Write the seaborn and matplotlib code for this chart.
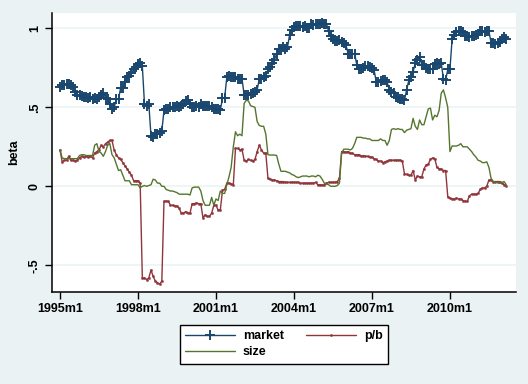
import numpy as np
import pandas as pd
import matplotlib
matplotlib.use('Agg')
import matplotlib.pyplot as plt
from matplotlib.lines import Line2D
import seaborn as sns

# monthly rolling betas, 1995m1 .. 2012m3
market = [0.63, 0.64, 0.64, 0.645, 0.645, 0.64, 0.63, 0.60, 0.58, 0.575, 0.57, 0.565,
          0.565, 0.56, 0.565, 0.55, 0.56, 0.55, 0.565, 0.575, 0.59, 0.56, 0.55, 0.52,
          0.49, 0.50, 0.55, 0.55, 0.625, 0.62, 0.66, 0.69, 0.70, 0.72, 0.74, 0.755,
          0.775, 0.78, 0.76, 0.52, 0.51, 0.52, 0.32, 0.31, 0.33, 0.33, 0.34, 0.35,
          0.48, 0.49, 0.49, 0.50, 0.50, 0.50, 0.51, 0.50, 0.51, 0.52, 0.54, 0.545,
          0.52, 0.50, 0.50, 0.51, 0.50, 0.52, 0.51, 0.51, 0.51, 0.51, 0.50, 0.49,
          0.49, 0.49, 0.48, 0.56, 0.56, 0.69, 0.70, 0.69, 0.69, 0.69, 0.68, 0.68,
          0.68, 0.58, 0.58, 0.58, 0.585, 0.59, 0.60, 0.61, 0.68, 0.68, 0.69, 0.70,
          0.74, 0.755, 0.78, 0.80, 0.84, 0.87, 0.87, 0.88, 0.87, 0.88, 0.96, 0.99,
          1.01, 1.015, 1.015, 1.015, 1.01, 1.015, 1.00, 1.00, 1.025, 1.02, 1.03, 1.03,
          1.03, 1.035, 1.03, 1.03, 0.98, 0.95, 0.93, 0.92, 0.92, 0.925, 0.915, 0.91,
          0.895, 0.84, 0.84, 0.84, 0.84, 0.77, 0.745, 0.74, 0.75, 0.76, 0.76, 0.755,
          0.75, 0.735, 0.66, 0.66, 0.665, 0.67, 0.67, 0.66, 0.61, 0.60, 0.59, 0.565,
          0.56, 0.555, 0.55, 0.545, 0.61, 0.67, 0.69, 0.725, 0.78, 0.80, 0.82, 0.77,
          0.77, 0.75, 0.745, 0.74, 0.74, 0.775, 0.78, 0.775, 0.78, 0.68, 0.67, 0.74,
          0.74, 0.93, 0.96, 0.975, 0.98, 0.98, 0.975, 0.95, 0.95, 0.945, 0.95, 0.95,
          0.96, 0.965, 0.98, 0.98, 0.975, 0.98, 0.98, 0.91, 0.905, 0.90, 0.91, 0.915,
          0.93, 0.945, 0.93]

pb = [0.23, 0.155, 0.165, 0.165, 0.19, 0.165, 0.165, 0.16, 0.165, 0.18, 0.19, 0.185,
      0.19, 0.185, 0.19, 0.18, 0.21, 0.22, 0.23, 0.26, 0.25, 0.27, 0.28, 0.29,
      0.29, 0.23, 0.20, 0.18, 0.17, 0.15, 0.13, 0.11, 0.09, 0.07, 0.035, 0.035,
      0.035, 0.02, -0.58, -0.58, -0.59, -0.58, -0.53, -0.57, -0.60, -0.61, -0.62, -0.60,
      -0.095, -0.095, -0.095, -0.12, -0.12, -0.125, -0.125, -0.14, -0.17, -0.17, -0.16, -0.17,
      -0.17, -0.11, -0.11, -0.105, -0.11, -0.11, -0.20, -0.18, -0.19, -0.19, -0.17, -0.12,
      -0.12, -0.15, -0.15, -0.025, -0.02, 0.02, 0.02, 0.015, 0.01, 0.24, 0.24, 0.23,
      0.235, 0.165, 0.16, 0.17, 0.165, 0.16, 0.17, 0.22, 0.26, 0.23, 0.21, 0.21,
      0.05, 0.045, 0.04, 0.04, 0.035, 0.03, 0.03, 0.03, 0.025, 0.025, 0.025, 0.025,
      0.025, 0.025, 0.025, 0.02, 0.02, 0.02, 0.02, 0.02, 0.02, 0.02, 0.025, 0.01,
      0.01, 0.008, 0.008, 0.02, 0.025, 0.025, 0.025, 0.025, 0.03, 0.05, 0.22, 0.22,
      0.215, 0.22, 0.21, 0.21, 0.20, 0.20, 0.20, 0.19, 0.195, 0.19, 0.19, 0.185,
      0.185, 0.175, 0.17, 0.16, 0.16, 0.15, 0.155, 0.16, 0.165, 0.165, 0.165, 0.165,
      0.165, 0.165, 0.16, 0.08, 0.075, 0.07, 0.07, 0.10, 0.04, 0.065, 0.06, 0.06,
      0.11, 0.135, 0.14, 0.17, 0.18, 0.175, 0.12, 0.11, 0.11, 0.10, 0.10, -0.065,
      -0.075, -0.08, -0.08, -0.075, -0.08, -0.08, -0.09, -0.095, -0.095, -0.06, -0.05, -0.05,
      -0.05, -0.045, -0.02, -0.01, -0.01, 0.0, 0.04, 0.04, 0.03, 0.03, 0.03, 0.03,
      0.02, 0.01, 0.005]

size = [0.23, 0.18, 0.175, 0.175, 0.175, 0.175, 0.175, 0.175, 0.175, 0.195, 0.20, 0.20,
        0.195, 0.195, 0.195, 0.195, 0.26, 0.27, 0.22, 0.21, 0.19, 0.22, 0.26, 0.27,
        0.20, 0.18, 0.14, 0.10, 0.105, 0.07, 0.035, 0.035, 0.035, 0.01, 0.01, 0.01,
        0.01, -0.01, 0.0, 0.005, 0.0, 0.005, 0.01, 0.045, 0.04, 0.02, 0.02, 0.0,
        0.0, -0.02, -0.025, -0.03, -0.03, -0.035, -0.04, -0.05, -0.05, -0.05, -0.05, -0.05,
        -0.055, -0.01, -0.005, -0.005, -0.005, -0.03, -0.09, -0.12, -0.12, -0.12, -0.07, -0.12,
        -0.08, -0.09, -0.03, -0.045, -0.045, 0.01, 0.06, 0.12, 0.25, 0.345, 0.32, 0.33,
        0.32, 0.525, 0.545, 0.54, 0.51, 0.505, 0.50, 0.41, 0.385, 0.38, 0.38, 0.33,
        0.20, 0.198, 0.198, 0.198, 0.195, 0.14, 0.095, 0.095, 0.095, 0.09, 0.085, 0.075,
        0.07, 0.06, 0.055, 0.06, 0.065, 0.065, 0.065, 0.06, 0.065, 0.065, 0.06, 0.07,
        0.065, 0.045, 0.02, 0.015, 0.01, 0.0, 0.0, 0.0, 0.005, 0.02, 0.21, 0.235,
        0.235, 0.235, 0.23, 0.24, 0.27, 0.31, 0.31, 0.31, 0.305, 0.305, 0.30, 0.30,
        0.29, 0.29, 0.29, 0.29, 0.30, 0.29, 0.29, 0.26, 0.29, 0.36, 0.365, 0.36,
        0.365, 0.36, 0.36, 0.34, 0.355, 0.36, 0.365, 0.43, 0.38, 0.36, 0.42, 0.39,
        0.39, 0.44, 0.49, 0.495, 0.42, 0.45, 0.44, 0.48, 0.59, 0.61, 0.56, 0.50,
        0.22, 0.255, 0.255, 0.255, 0.26, 0.27, 0.25, 0.25, 0.25, 0.235, 0.22, 0.20,
        0.185, 0.165, 0.16, 0.15, 0.15, 0.155, 0.12, 0.05, 0.03, 0.025, 0.025, 0.02,
        0.025, 0.03, 0.01]

xtick_pos = [0, 36, 72, 108, 144, 180]
xtick_labels = ['1995m1', '1998m1', '2001m1', '2004m1', '2007m1', '2010m1']
ytick_pos = [-0.5, 0, 0.5, 1]
ytick_labels = ['-.5', '0', '.5', '1']

df = pd.DataFrame({'t': np.arange(len(market)), 'market': market, 'pb': pb, 'size': size})

sns.set_theme(style='white')
plt.rcParams['font.family'] = ['Liberation Sans', 'DejaVu Sans']
plt.rcParams['font.weight'] = 'bold'

c_mkt = '#1a476f'
c_pb = '#90353b'
c_size = '#55752f'
bg = '#eaf2f3'
fs = 9

fig = plt.figure(figsize=(5.28, 3.84), dpi=100, facecolor=bg)
ax = fig.add_axes([52/528, 1-292/384, (516-52)/528, (292-13)/384])
ax.set_facecolor('white')

sns.lineplot(data=df, x='t', y='market', ax=ax, color=c_mkt, lw=1.0,
             marker='+', markersize=6.5, markeredgewidth=1.4, markeredgecolor=c_mkt)
sns.lineplot(data=df, x='t', y='pb', ax=ax, color=c_pb, lw=1.0,
             marker='o', markersize=1.6, markeredgewidth=0.3, markeredgecolor=c_pb)
sns.lineplot(data=df, x='t', y='size', ax=ax, color=c_size, lw=1.0)

ax.set_xlim(-3.7, 210.5)
ax.set_ylim(-0.669, 1.097)
ax.set_xticks(xtick_pos)
ax.set_xticklabels(xtick_labels, fontsize=fs, fontweight='bold')
ax.set_yticks(ytick_pos)
ax.set_yticklabels(ytick_labels, fontsize=fs, fontweight='bold', rotation=90, va='center')
ax.tick_params(axis='both', direction='out', length=5, width=1, color='black',
               labelcolor='black', left=True, bottom=True, pad=3)
ax.set_xlabel('')
ax.set_ylabel('beta', fontsize=fs, fontweight='bold', labelpad=6, color='black')
ax.yaxis.grid(True, color=bg, lw=1.1)
ax.xaxis.grid(False)
ax.set_axisbelow(True)
for s in ['top', 'right']:
    ax.spines[s].set_visible(False)
for s in ['left', 'bottom']:
    ax.spines[s].set_color('black')
    ax.spines[s].set_linewidth(1.1)

handles = [
    Line2D([], [], color=c_mkt, lw=1.0, marker='+', markersize=6.5, markeredgewidth=1.4),
    Line2D([], [], color=c_size, lw=1.0),
    Line2D([], [], color=c_pb, lw=1.0, marker='o', markersize=1.6, markeredgewidth=0.3),
]
labels = ['market', 'size', 'p/b']
leg = fig.legend(handles, labels, ncol=2, loc='center', bbox_to_anchor=(284/528, 1-344/384),
                 frameon=True, fancybox=False, prop={'size': fs, 'weight': 'bold'},
                 handlelength=4.0, columnspacing=1.8, handletextpad=0.6, borderpad=0.45,
                 labelspacing=0.3, markerscale=1.0, numpoints=1)
for t in leg.get_texts():
    t.set_color('black')
leg.get_frame().set_edgecolor('black')
leg.get_frame().set_linewidth(1.0)
leg.get_frame().set_facecolor('white')
leg.get_frame().set_alpha(1)

fig.savefig('out.png', dpi=100, facecolor=bg)
